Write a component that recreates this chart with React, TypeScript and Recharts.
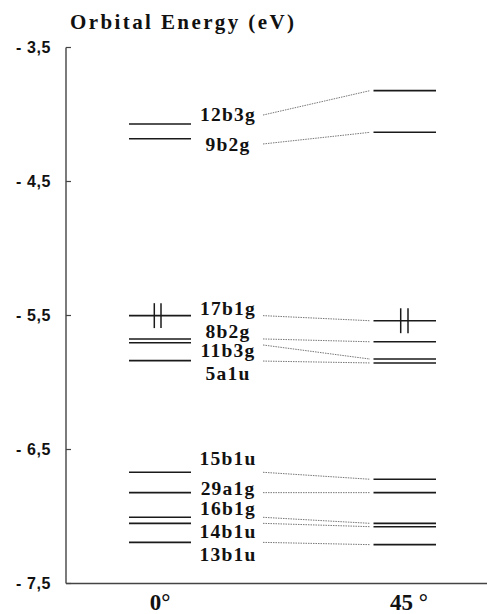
import { ComposedChart, Line, Scatter, XAxis, YAxis } from "recharts";

// orbital correlation diagram, 0° vs 45° rotation
const orbitals = ["12b3g", "9b2g", "17b1g", "8b2g", "11b3g", "5a1u", "15b1u", "29a1g", "16b1g", "14b1u", "13b1u"];
const energy0 = [-4.071, -4.181, -5.501, -5.675, -5.703, -5.837, -6.67, -6.822, -7.006, -7.051, -7.193];
const energy45 = [-3.822, -4.133, -5.539, -5.696, -5.825, -5.854, -6.722, -6.822, -7.051, -7.076, -7.21];
// the dotted correlation line leaves the label column here
const linkFrom = [-4.004, -4.22, -5.501, -5.675, -5.72, -5.84, -6.67, -6.822, -7.006, -7.051, -7.193];
// label baselines
const labelAt = [-4.048, -4.272, -5.496, -5.668, -5.81, -5.981, -6.616, -6.84, -6.989, -7.16, -7.332];
const occupied = ["17b1g"];
const angles = ["0°", "45 °"];
const yTicks = [-7.5, -6.5, -5.5, -4.5, -3.5];

// layout, x in px from the left axis
const COL0 = [63, 125];
const COL45 = [307.5, 370];
const LINK = [197, 304];
const LABEL_X = 162;
const ANGLE_X = [94, 343];
const SPIN0 = [88.3, 95];
const SPIN45 = [334.7, 342];
const SPIN_H = 0.093;

const AXIS = "#444";
const LEVEL = "#1a1a1a";
const SERIF = "'Liberation Serif', 'Times New Roman', serif";

const seg = (x1: number, y1: number, x2: number, y2: number) => [
  { x: x1, y: y1 },
  { x: x2, y: y2 },
];

const EnergyTick = (props: any) => {
  const { x, y, payload } = props;
  const txt = "- " + Math.abs(payload.value).toFixed(1).replace(".", ",");
  return (
    <text
      x={x}
      y={y}
      dy="0.36em"
      textAnchor="end"
      style={{ fontFamily: "'Liberation Sans', Arial, sans-serif", fontWeight: 700, fontSize: 16, letterSpacing: 0.6 }}
      fill="#111"
    >
      {txt}
    </text>
  );
};

const AngleTick = (props: any) => {
  const { x, y, index } = props;
  return (
    <text x={x} y={y + 26.5} textAnchor="middle" fontFamily={SERIF} fontWeight={700} fontSize={23} fill="#111">
      {angles[index]}
    </text>
  );
};

const OrbitalLabel = (props: any) => (
  <text
    x={props.cx}
    y={props.cy}
    textAnchor="middle"
    fontFamily={SERIF}
    fontWeight={700}
    fontSize={19.5}
    letterSpacing={1.2}
    fill="#111"
  >
    {props.payload.name}
  </text>
);

export default function App() {
  const lineProps = { dataKey: "y", dot: false, activeDot: false, isAnimationActive: false, legendType: "none" as const };

  const spins: { x: number; e: number }[] = [];
  orbitals.forEach((name, i) => {
    if (!occupied.includes(name)) return;
    SPIN0.forEach((x) => spins.push({ x, e: energy0[i] }));
    SPIN45.forEach((x) => spins.push({ x, e: energy45[i] }));
  });

  return (
    <div style={{ position: "absolute", left: 0, top: 0, width: 487, height: 614, background: "#fff" }}>
      <div
        style={{
          position: "absolute",
          left: 70,
          top: 12,
          fontFamily: SERIF,
          fontWeight: 700,
          fontSize: 21,
          lineHeight: "21px",
          letterSpacing: 2.4,
          color: "#111",
          whiteSpace: "nowrap",
        }}
      >
        Orbital Energy (eV)
      </div>
      <ComposedChart width={487} height={614} margin={{ top: 47.5, right: 0, bottom: 0, left: 6 }}>
        <XAxis
          xAxisId="top"
          orientation="top"
          type="number"
          dataKey="x"
          domain={[0, 421]}
          height={0}
          tick={false}
          tickLine={false}
          axisLine={{ stroke: AXIS, strokeWidth: 1.4 }}
        />
        <XAxis
          type="number"
          dataKey="x"
          domain={[0, 421]}
          height={30.5}
          ticks={ANGLE_X}
          interval={0}
          tickSize={0}
          tickMargin={0}
          tickLine={false}
          tick={<AngleTick />}
          axisLine={{ stroke: AXIS, strokeWidth: 1.4 }}
        />
        <YAxis
          type="number"
          dataKey="y"
          domain={[-7.5, -3.5]}
          ticks={yTicks}
          interval={0}
          width={60}
          tickSize={-5}
          tickMargin={20}
          tick={<EnergyTick />}
          tickLine={{ stroke: AXIS, strokeWidth: 1.2 }}
          axisLine={{ stroke: AXIS, strokeWidth: 1.4 }}
        />

        {orbitals.map((name, i) => (
          <Line
            key={"l0" + name}
            {...lineProps}
            data={seg(COL0[0], energy0[i], COL0[1], energy0[i])}
            stroke={LEVEL}
            strokeWidth={1.6}
          />
        ))}
        {orbitals.map((name, i) => (
          <Line
            key={"l45" + name}
            {...lineProps}
            data={seg(COL45[0], energy45[i], COL45[1], energy45[i])}
            stroke={LEVEL}
            strokeWidth={1.6}
          />
        ))}
        {orbitals.map((name, i) => (
          <Line
            key={"lk" + name}
            {...lineProps}
            data={seg(LINK[0], linkFrom[i], LINK[1], energy45[i])}
            stroke="#777"
            strokeWidth={1}
            strokeDasharray="1.5 1"
          />
        ))}
        {spins.map((s, i) => (
          <Line
            key={"sp" + i}
            {...lineProps}
            data={seg(s.x, s.e + SPIN_H, s.x, s.e - SPIN_H)}
            stroke={LEVEL}
            strokeWidth={1.5}
          />
        ))}

        <Scatter
          data={orbitals.map((name, i) => ({ x: LABEL_X, y: labelAt[i], name }))}
          dataKey="y"
          shape={<OrbitalLabel />}
          isAnimationActive={false}
          legendType="none"
        />
      </ComposedChart>
    </div>
  );
}
